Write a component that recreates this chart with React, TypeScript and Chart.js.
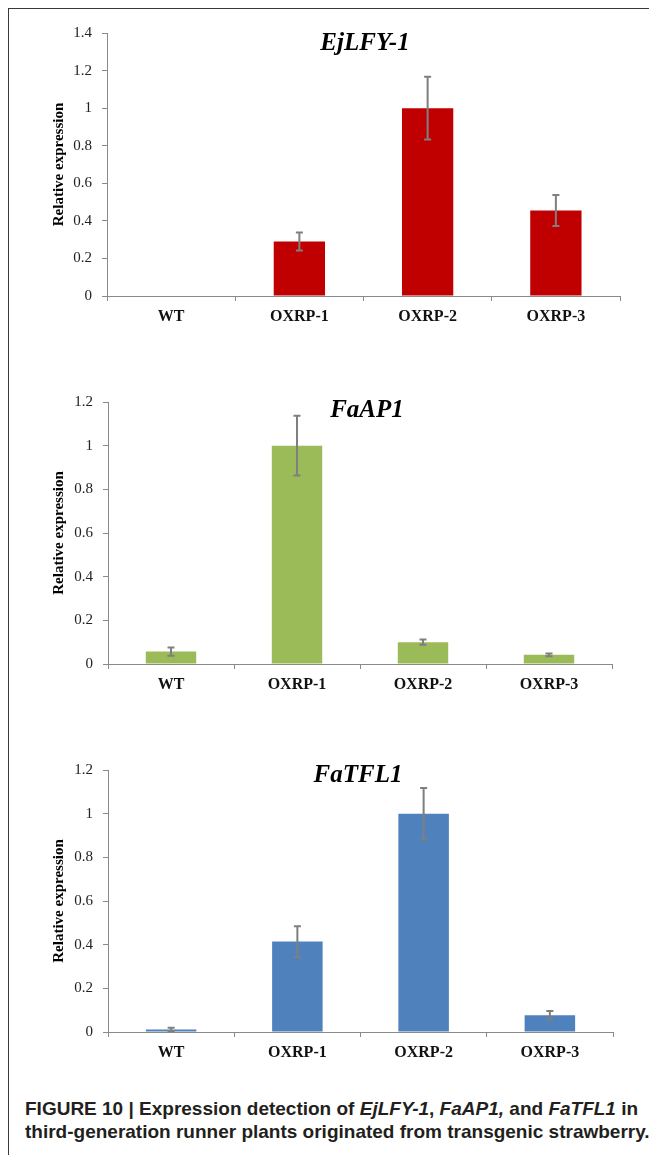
import React, { useEffect, useRef } from 'react';
import { Chart, registerables } from 'chart.js';

Chart.register(...registerables);

// ---- data ----
const categories = ['WT', 'OXRP-1', 'OXRP-2', 'OXRP-3'];

const ejLFY1Values = [0, 0.29, 1.0, 0.455];
const ejLFY1Errors = [0, 0.048, 0.167, 0.083];

const faAP1Values = [0.057, 1.0, 0.1, 0.042];
const faAP1Errors = [0.019, 0.137, 0.012, 0.006];

const faTFL1Values = [0.012, 0.414, 1.0, 0.077];
const faTFL1Errors = [0.007, 0.07, 0.118, 0.019];

const yMaxEjLFY1 = 1.4;
const yMaxFaAP1 = 1.2;
const yMaxFaTFL1 = 1.2;
const yStep = 0.2;

const yAxisTitle = 'Relative expression';

// ---- styles ----
const SERIF = '"Liberation Serif", "Times New Roman", serif';
const AXIS = '#8a8a8a';
const ERR = '#7f7f7f';
const CANVAS_W = 648;
const ORIGIN = 9; // page coordinate of wrapper content origin

type Spec = {
  title: string;
  values: number[];
  errors: number[];
  color: string;
  yMax: number;
  top: number; // page y of canvas
  height: number;
  plotLeft: number;
  plotRight: number;
  plotTop: number;
  plotBottom: number;
  titleX: number;
  titleBaseline: number;
};

const specs: Spec[] = [
  {
    title: 'EjLFY-1', values: ejLFY1Values, errors: ejLFY1Errors, color: '#C00000', yMax: yMaxEjLFY1,
    top: 9, height: 330, plotLeft: 107, plotRight: 620, plotTop: 33, plotBottom: 296,
    titleX: 365, titleBaseline: 50,
  },
  {
    title: 'FaAP1', values: faAP1Values, errors: faAP1Errors, color: '#9BBB59', yMax: yMaxFaAP1,
    top: 340, height: 365, plotLeft: 108, plotRight: 612, plotTop: 402, plotBottom: 664,
    titleX: 367, titleBaseline: 416.5,
  },
  {
    title: 'FaTFL1', values: faTFL1Values, errors: faTFL1Errors, color: '#4F81BD', yMax: yMaxFaTFL1,
    top: 705, height: 365, plotLeft: 108, plotRight: 613, plotTop: 770, plotBottom: 1032,
    titleX: 358, titleBaseline: 781.5,
  },
];

function Panel({ spec }: { spec: Spec }) {
  const ref = useRef<HTMLCanvasElement>(null);
  useEffect(() => {
    const left = spec.plotLeft - ORIGIN;
    const right = spec.plotRight - ORIGIN;
    const top = spec.plotTop - spec.top;
    const bottom = spec.plotBottom - spec.top;

    const errorBars = {
      id: 'errorBars',
      afterDatasetsDraw(chart: any) {
        const { ctx } = chart;
        const meta = chart.getDatasetMeta(0);
        const yScale = chart.scales.y;
        ctx.save();
        ctx.strokeStyle = ERR;
        ctx.lineWidth = 2;
        spec.values.forEach((v, i) => {
          const e = spec.errors[i];
          if (!e) return;
          const x = meta.data[i].x;
          const yH = yScale.getPixelForValue(v + e);
          const yL = yScale.getPixelForValue(v - e);
          ctx.beginPath();
          ctx.moveTo(x, yH);
          ctx.lineTo(x, yL);
          ctx.moveTo(x - 3.5, yH);
          ctx.lineTo(x + 3.5, yH);
          ctx.moveTo(x - 3.5, yL);
          ctx.lineTo(x + 3.5, yL);
          ctx.stroke();
        });
        ctx.restore();
      },
    };

    const innerTitle = {
      id: 'innerTitle',
      afterDraw(chart: any) {
        const { ctx } = chart;
        ctx.save();
        ctx.font = `italic bold 25px ${SERIF}`;
        ctx.fillStyle = '#000';
        ctx.textAlign = 'center';
        ctx.textBaseline = 'alphabetic';
        ctx.fillText(spec.title, spec.titleX - ORIGIN, spec.titleBaseline - spec.top);
        ctx.restore();
      },
    };

    const chart = new Chart(ref.current as HTMLCanvasElement, {
      type: 'bar',
      data: {
        labels: categories,
        datasets: [
          {
            data: spec.values,
            backgroundColor: spec.color,
            borderWidth: 0,
            barPercentage: 0.4,
            categoryPercentage: 1,
          },
        ],
      },
      options: {
        responsive: false,
        animation: false,
        devicePixelRatio: 1,
        layout: { padding: { top, right: CANVAS_W - right, left: 0, bottom: 0 } },
        plugins: {
          legend: { display: false },
          tooltip: { enabled: false },
          title: { display: false },
        },
        scales: {
          x: {
            grid: { display: true, drawOnChartArea: false, drawTicks: true, tickLength: 5, color: AXIS, offset: true },
            border: { display: true, color: AXIS, width: 1 },
            ticks: {
              font: { family: SERIF, size: 16, weight: 'bold' },
              color: '#111',
              padding: 6,
              maxRotation: 0,
              autoSkip: false,
            },
            afterFit: (s: any) => {
              s.height = spec.height - bottom;
            },
          },
          y: {
            min: 0,
            max: spec.yMax,
            ticks: {
              stepSize: yStep,
              font: { family: SERIF, size: 15 },
              color: '#222',
              padding: 10,
              callback: (v: any) => String(Number(Number(v).toFixed(1))),
            },
            grid: { drawOnChartArea: false, drawTicks: true, tickLength: 5, color: AXIS },
            border: { display: true, color: AXIS, width: 1 },
            title: {
              display: true,
              text: yAxisTitle,
              font: { family: SERIF, size: 15, weight: 'bold' },
              color: '#000',
              padding: { top: 41, bottom: 0 },
            },
            afterFit: (s: any) => {
              s.width = left;
            },
          },
        },
      } as any,
      plugins: [errorBars, innerTitle],
    });
    return () => chart.destroy();
  }, [spec]);

  return (
    <canvas
      ref={ref}
      width={CANVAS_W}
      height={spec.height}
      style={{ position: 'absolute', left: 0, top: spec.top - ORIGIN, display: 'block', width: CANVAS_W, height: spec.height }}
    />
  );
}

export default function App() {
  useEffect(() => {
    document.documentElement.style.overflow = 'hidden';
    document.body.style.overflow = 'hidden';
  }, []);
  return (
    <div
      style={{
        position: 'relative',
        width: 648,
        height: 1160,
        borderLeft: '1px solid #3a3a3a',
        borderTop: '1px solid #3a3a3a',
        background: '#fff',
      }}
    >
      {specs.map((s) => (
        <Panel key={s.title} spec={s} />
      ))}
      <div
        style={{
          position: 'absolute',
          left: 16,
          top: 1088,
          fontFamily: '"Liberation Sans", Arial, sans-serif',
          fontWeight: 'bold',
          fontSize: 19,
          lineHeight: '23px',
          color: '#231f20',
          whiteSpace: 'nowrap',
        }}
      >
        FIGURE 10 | Expression detection of <i>EjLFY-1</i>, <i>FaAP1,</i> and <i>FaTFL1</i> in
        <br />
        third-generation runner plants originated from transgenic strawberry.
      </div>
    </div>
  );
}
